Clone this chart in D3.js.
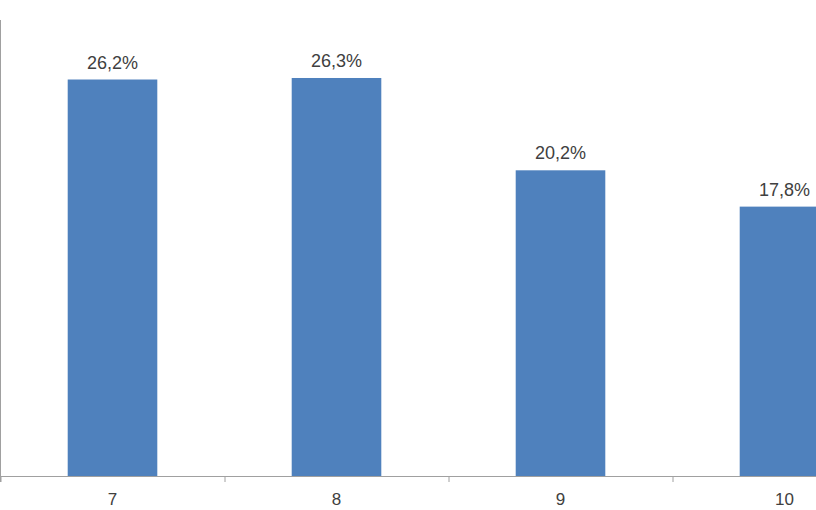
<!DOCTYPE html>
<html>
<head>
<meta charset="utf-8">
<script src="https://cdn.jsdelivr.net/npm/d3@7"></script>
<style>
  html, body { margin: 0; padding: 0; background: #fff; }
  svg { display: block; }
</style>
</head>
<body>
<svg id="chart" width="816" height="510"></svg>
<script>
const categories = ["7", "8", "9", "10"];
const values = [26.2, 26.3, 20.2, 17.8];
const labels = ["26,2%", "26,3%", "20,2%", "17,8%"];
const yDomain = [0, 30];

const W = 816, H = 510;
const svg = d3.select("#chart");
const fontFam = "'Liberation Sans', Arial, sans-serif";

const x = d3.scaleBand().domain(categories).range([0.5, 896.5]).paddingInner(0.6).paddingOuter(0.3);
const xb = d3.scaleBand().domain(categories).range([0.5, 896.5]).padding(0);
const y = d3.scaleLinear().domain(yDomain).range([476, 22]);

// bars
svg.append("g").selectAll("rect").data(values).join("rect")
  .attr("x", (d, i) => x(categories[i]))
  .attr("y", d => y(d))
  .attr("width", x.bandwidth())
  .attr("height", d => y(0) - y(d))
  .attr("fill", "#4F81BD");

// value labels
svg.append("g").selectAll("text").data(values).join("text")
  .attr("x", (d, i) => x(categories[i]) + x.bandwidth() / 2)
  .attr("y", d => y(d) - 11)
  .attr("text-anchor", "middle")
  .attr("font-family", fontFam)
  .attr("font-size", 18)
  .attr("fill", "#404040")
  .text((d, i) => labels[i]);

// y axis line
const yAxis = d3.axisLeft(y).tickValues([]).tickSizeOuter(0);
const gy = svg.append("g").attr("transform", "translate(0.5,0)").call(yAxis);
gy.select(".domain").attr("stroke", "#a0a0a0").attr("d", `M0,${y(30) - 2}V482`);

// x axis baseline with boundary ticks
const boundaries = categories.map(c => xb(c)).concat([xb(categories[3]) + xb.bandwidth()]);
const xl = d3.scaleLinear().domain([0.5, 896.5]).range([0.5, 896.5]);
const xAxisTicks = d3.axisBottom(xl).tickValues(boundaries).tickSize(6).tickSizeOuter(0).tickFormat("");
const gx = svg.append("g").attr("transform", `translate(0,${y(0)})`).call(xAxisTicks);
gx.selectAll("line, path").attr("stroke", "#a0a0a0");

// category labels
const xAxis = d3.axisBottom(x).tickSize(0).tickPadding(17);
const gl = svg.append("g").attr("transform", `translate(0,${y(0)})`).call(xAxis);
gl.select(".domain").remove();
gl.selectAll("text").attr("font-family", fontFam).attr("font-size", 17).attr("fill", "#404040");
</script>
</body>
</html>
